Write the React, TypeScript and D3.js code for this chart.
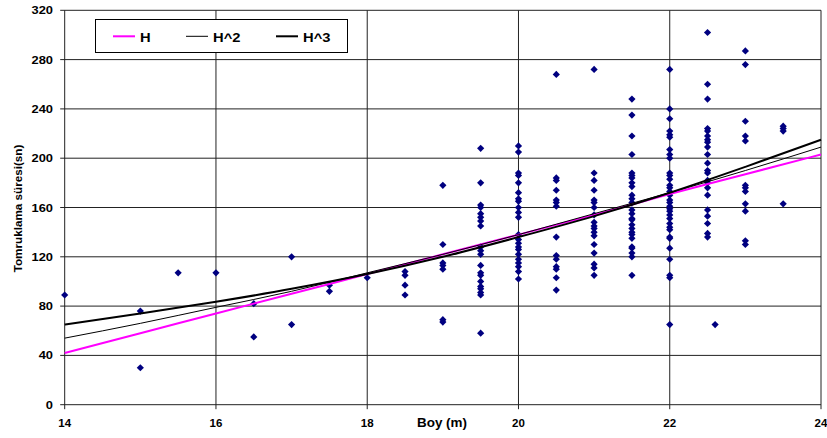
import * as d3 from "d3";

// Boy (m) columns and the Tomruklama süresi (sn) readings at each height
const boyValues = [14, 15, 15.5, 16, 16.5, 17, 17.5, 18, 18.5, 19, 19.5, 20, 20.5, 21, 21.5, 22, 22.5, 22.6, 23, 23.5];
const sureValues = [
  [89],
  [76, 30],
  [107],
  [107],
  [82, 55],
  [120, 65],
  [97, 92],
  [103],
  [108, 105, 97, 89],
  [178, 130, 115, 113, 110, 69, 67],
  [208, 180, 162, 160, 155, 152, 149, 145, 128, 125, 122, 113, 107, 105, 100, 96, 94, 91, 89, 58],
  [210, 205, 188, 186, 180, 172, 167, 165, 160, 156, 152, 138, 134, 131, 128, 126, 122, 118, 115, 112, 108, 102],
  [268, 184, 182, 174, 166, 164, 161, 136, 121, 118, 112, 110, 103, 93],
  [272, 188, 182, 174, 166, 164, 160, 154, 148, 145, 143, 140, 137, 130, 123, 114, 111, 105],
  [248, 235, 218, 203, 188, 186, 184, 180, 177, 170, 167, 164, 158, 155, 151, 150, 146, 143, 140, 138, 135, 128, 127, 123, 120, 105],
  [272, 240, 232, 222, 219, 217, 207, 203, 200, 188, 186, 183, 178, 176, 173, 170, 166, 164, 161, 159, 157, 154, 151, 147, 144, 142, 136, 135, 127, 118, 105, 103, 65],
  [302, 260, 248, 224, 222, 218, 215, 213, 209, 203, 196, 190, 188, 182, 180, 176, 170, 158, 153, 147, 139, 136],
  [65],
  [287, 276, 230, 218, 214, 178, 176, 173, 163, 157, 133, 130],
  [226, 224, 222, 163],
];

// Trendlines
const trendX = [14, 15, 16, 17, 18, 19, 20, 21, 22, 23, 24];
const trendH = [42, 58, 74, 90, 106, 122, 138, 154, 171, 187, 203];
const trendH2 = [54, 66, 79, 92, 107, 122, 138, 155, 172, 190, 209];
const trendH3 = [65, 74, 83.5, 94, 106, 120, 136, 153, 172, 193, 215];

const xTicks = [14, 16, 18, 20, 22, 24];
const yTicks = [0, 40, 80, 120, 160, 200, 240, 280, 320];

const legendItems = [
  { label: "H", color: "#ff00ff", width: 2 },
  { label: "H^2", color: "#000000", width: 1 },
  { label: "H^3", color: "#000000", width: 2 },
];

const W = 827;
const H = 438;
const font = "'Liberation Sans', Arial, sans-serif";

export default function App() {
  const x = d3.scaleLinear().domain([14, 24]).range([64.7, 821]);
  const y = d3.scaleLinear().domain([0, 320]).range([404.7, 10.3]);

  const points = boyValues.flatMap((b, i) => sureValues[i].map((s) => ({ b, s })));
  const line = d3
    .line<number>()
    .x((_, i) => x(trendX[i]))
    .y((d) => y(d))
    .curve(d3.curveMonotoneX);

  const trends = [
    { data: trendH, color: "#ff00ff", width: 2 },
    { data: trendH2, color: "#000000", width: 1 },
    { data: trendH3, color: "#000000", width: 2 },
  ];

  const legendX = [113, 186, 276];

  return (
    <div style={{ position: "fixed", left: 0, top: 0 }}>
      <svg width={W} height={H} viewBox={`0 0 ${W} ${H}`} style={{ display: "block", background: "#fff" }}>
        {/* grid */}
        {yTicks.map((t) => (
          <g key={"y" + t}>
            <line x1={x(14) - 4.5} x2={x(24)} y1={y(t)} y2={y(t)} stroke="#222" strokeWidth={1} />
            <g transform={`translate(53,${y(t) + 4}) scale(1.12,1)`}>
              <text textAnchor="end" fontFamily={font} fontWeight="bold" fontSize={11.5} fill="#000">
                {t}
              </text>
            </g>
          </g>
        ))}
        {xTicks.map((t) => (
          <g key={"x" + t}>
            <line x1={x(t)} x2={x(t)} y1={y(320)} y2={y(0) + 4.5} stroke="#222" strokeWidth={1} />
            <text
              x={x(t)}
              y={427}
              textAnchor="middle"
              fontFamily={font}
              fontWeight="bold"
              fontSize={11.5}
              fill="#000"
            >
              {t}
            </text>
          </g>
        ))}

        {/* scatter */}
        {points.map((p, i) => (
          <path
            key={i}
            transform={`translate(${x(p.b)},${y(p.s)})`}
            d="M0,-3.6L3.6,0L0,3.6L-3.6,0Z"
            fill="#000080"
          />
        ))}

        {/* trendlines */}
        {trends.map((t, i) => (
          <path key={i} d={line(t.data) ?? ""} fill="none" stroke={t.color} strokeWidth={t.width} />
        ))}

        {/* legend */}
        <rect x={95.5} y={19.5} width={252} height={33} fill="#fff" stroke="#000" strokeWidth={1} />
        {legendItems.map((item, i) => (
          <g key={item.label}>
            <line
              x1={legendX[i]}
              x2={legendX[i] + 22}
              y1={36.3}
              y2={36.3}
              stroke={item.color}
              strokeWidth={item.width}
            />
            <g transform={`translate(${legendX[i] + 27},41.5) scale(1.18,1)`}>
              <text fontFamily={font} fontWeight="bold" fontSize={12.5} fill="#000">
                {item.label}
              </text>
            </g>
          </g>
        ))}

        {/* axis titles */}
        <g transform="translate(442,427) scale(1.12,1)">
          <text textAnchor="middle" fontFamily={font} fontWeight="bold" fontSize={12} fill="#000">
            Boy (m)
          </text>
        </g>
        <text
          transform="translate(21.5,208.5) rotate(-90)"
          textAnchor="middle"
          fontFamily={font}
          fontWeight="bold"
          fontSize={11.7}
          fill="#000"
        >
          Tomruklama süresi(sn)
        </text>
      </svg>
    </div>
  );
}
